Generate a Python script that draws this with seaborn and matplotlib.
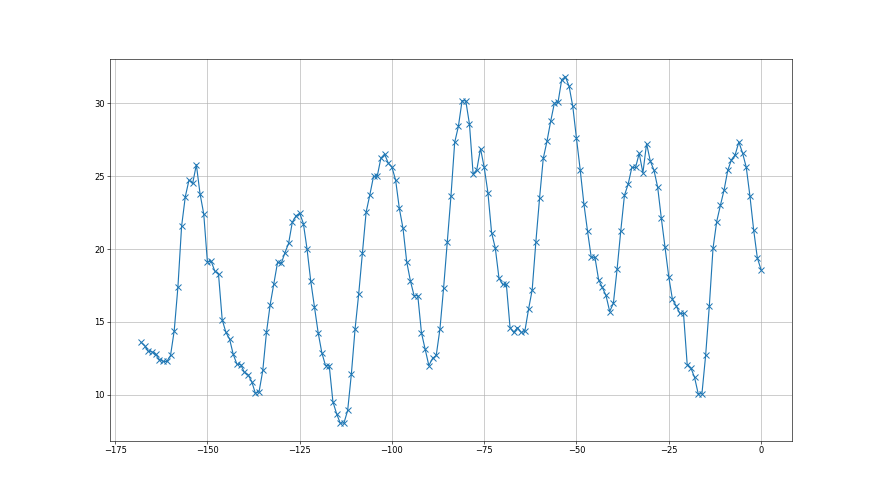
import matplotlib
matplotlib.use("Agg")
import matplotlib.pyplot as plt
import seaborn as sns
import pandas as pd

# hours before now (-168 .. 0)
hours = list(range(-168, 1))

# values, one per hour
temps = [
    13.6, 13.36, 12.97, 12.94, 12.76, 12.41, 12.28, 12.28, 12.69, 14.39,
    17.38, 21.56, 23.59, 24.73, 24.51, 25.79, 23.79, 22.41, 19.1, 19.17,
    18.48, 18.28, 15.15, 14.28, 13.82, 12.76, 12.09, 12.07, 11.54, 11.38,
    10.9, 10.09, 10.21, 11.66, 14.28, 16.18, 17.63, 19.08, 19.01, 19.75,
    20.39, 21.84, 22.28, 22.46, 21.75, 19.98, 17.79, 16.05, 14.26, 12.88,
    12.0, 12.0, 9.52, 8.69, 8.04, 8.06, 8.92, 11.41, 14.49, 16.94,
    19.7, 22.53, 23.71, 24.98, 24.98, 26.24, 26.52, 25.9, 25.62, 24.72,
    22.79, 21.41, 19.12, 17.81, 16.8, 16.8, 14.24, 13.11, 12.0, 12.49,
    12.7, 14.5, 17.34, 20.5, 23.67, 27.32, 28.42, 30.18, 30.18, 28.58,
    25.14, 25.46, 26.9, 25.6, 23.88, 21.12, 20.07, 18.0, 17.57, 17.57,
    14.61, 14.27, 14.61, 14.27, 14.34, 15.85, 17.2, 20.5, 23.5, 26.22,
    27.39, 28.76, 30.0, 30.07, 31.63, 31.83, 31.17, 29.79, 27.59, 25.46,
    23.12, 21.22, 19.43, 19.43, 17.89, 17.36, 16.81, 15.71, 16.28, 18.6,
    21.24, 23.69, 24.45, 25.6, 25.6, 26.56, 25.23, 27.24, 26.04, 25.41,
    24.24, 22.1, 20.12, 18.11, 16.54, 16.11, 15.58, 15.58, 12.07, 11.84,
    11.18, 10.05, 10.07, 12.7, 16.11, 20.05, 21.89, 23.0, 24.06, 25.41,
    26.13, 26.47, 27.35, 26.59, 25.62, 23.64, 21.34, 19.4, 18.59,
]

df = pd.DataFrame({"hour": hours, "temp": temps})

plt.rcParams["font.family"] = ["Liberation Sans Narrow", "DejaVu Sans"]
plt.rcParams["font.size"] = 11

fig, ax = plt.subplots(figsize=(16, 9), dpi=55)
sns.lineplot(
    data=df,
    x="hour",
    y="temp",
    marker="x",
    color="#1f77b4",
    markeredgecolor="#1f77b4",
    markeredgewidth=1.3,
    markersize=7,
    ax=ax,
)
ax.grid(True)
ax.set_xlabel("")
ax.set_ylabel("")
ax.set_xticks([-175, -150, -125, -100, -75, -50, -25, 0])
ax.set_yticks([10, 15, 20, 25, 30])

fig.savefig("out.png", dpi=55)
